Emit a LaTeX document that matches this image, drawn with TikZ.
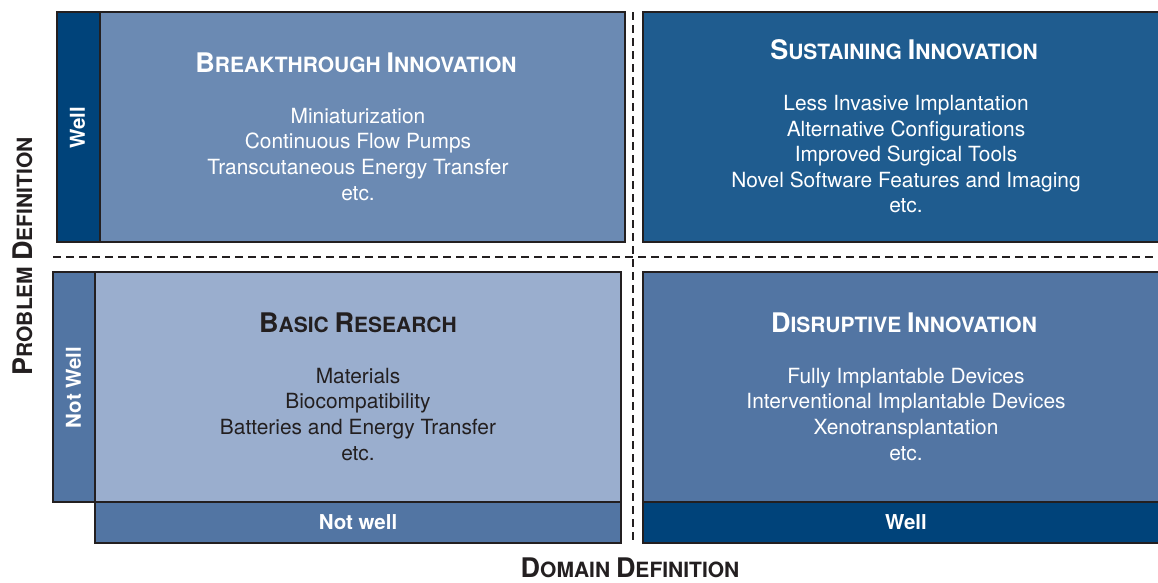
\documentclass[tikz,border=0pt]{standalone}
\usepackage{fontspec}
\setmainfont{TeX Gyre Heros}
\definecolor{navy}{HTML}{00437A}
\definecolor{steel}{HTML}{6B8AB3}
\definecolor{royal}{HTML}{1F5C8F}
\definecolor{pale}{HTML}{9AAECE}
\definecolor{mid}{HTML}{5275A3}
\definecolor{ink}{HTML}{231F20}
% fake small caps: large initial, smaller capitals
\newcommand{\capword}[2]{{\fontsize{27}{27}\selectfont #1}{\fontsize{21}{21}\selectfont #2}}
\tikzset{
  panel/.style={draw=ink, line width=2pt},
  divider/.style={draw=ink, line width=2.2pt, dash pattern=on 8pt off 5pt},
  heading/.style={font=\fontsize{21}{21}\selectfont\bfseries, anchor=base, inner sep=0pt},
  items/.style={font=\fontsize{20.9}{25.6}\selectfont, align=center, anchor=base, inner sep=0pt},
  tag/.style={font=\fontsize{20.5}{22}\selectfont\bfseries, text=white, inner sep=0pt},
}
\begin{document}
\begin{tikzpicture}[x=1pt,y=-1pt]
\useasboundingbox (0,0) rectangle (1158,582);
\begin{scope}
\clip (0,0) rectangle (1158,582);
% quadrants
\filldraw[panel, fill=navy] (57,12) rectangle (100,242);
\filldraw[panel, fill=steel] (100,12) rectangle (625,242);
\filldraw[panel, fill=royal] (643,12) rectangle (1170,242);
\filldraw[panel, fill=mid] (53,272) rectangle (95,502);
\filldraw[panel, fill=pale] (95,272) rectangle (621,502);
\filldraw[panel, fill=mid] (95,502) rectangle (621,543);
\filldraw[panel, fill=mid] (643,272) rectangle (1170,502);
\filldraw[panel, fill=navy] (643,502) rectangle (1170,543);
% dividing lines
\coordinate (hl) at (53,257);
\coordinate (hr) at (1160,257);
\coordinate (vt) at (633,12);
\coordinate (vb) at (633,542);
\draw[divider] (hl) -- (hr);
\draw[divider] (vt) -- (vb);
\end{scope}
% top left (item lists are placed by their last baseline)
\node[heading, text=white] (bt) at (356,72.7) {\capword{B}{REAKTHROUGH} \capword{I}{NNOVATION}};
\node[items, text=white] (bi) at (358,200.1) {Miniaturization\\Continuous Flow Pumps\\Transcutaneous Energy Transfer\\etc.};
% top right
\node[heading, text=white] (st) at (904,59.5) {\capword{S}{USTAINING} \capword{I}{NNOVATION}};
\node[items, text=white] (si) at (906,212.9) {Less Invasive Implantation\\Alternative Configurations\\Improved Surgical Tools\\Novel Software Features and Imaging\\etc.};
% bottom left
\node[heading, text=ink] (rt) at (358,332.3) {\capword{B}{ASIC} \capword{R}{ESEARCH}};
\node[items, text=ink] (ri) at (358,460.1) {Materials\\Biocompatibility\\Batteries and Energy Transfer\\etc.};
% bottom right
\node[heading, text=white] (dt) at (904,332.3) {\capword{D}{ISRUPTIVE} \capword{I}{NNOVATION}};
\node[items, text=white] (di) at (906,460.1) {Fully Implantable Devices\\Interventional Implantable Devices\\Xenotransplantation\\etc.};
% strip labels
\node[tag, rotate=90] (pw) at (77.5,127.5) {Well};
\node[tag, rotate=90] (pn) at (73.5,387.5) {Not Well};
\node[tag, anchor=base] (dn) at (358,529.3) {Not well};
\node[tag, anchor=base] (dw) at (906,529.3) {Well};
% axis titles
\node[heading, text=ink, rotate=90] (pa) at (32,256.5) {\capword{P}{ROBLEM} \capword{D}{EFINITION}};
\node[heading, text=ink] (da) at (630,577) {\capword{D}{OMAIN} \capword{D}{EFINITION}};
\end{tikzpicture}
\end{document}
